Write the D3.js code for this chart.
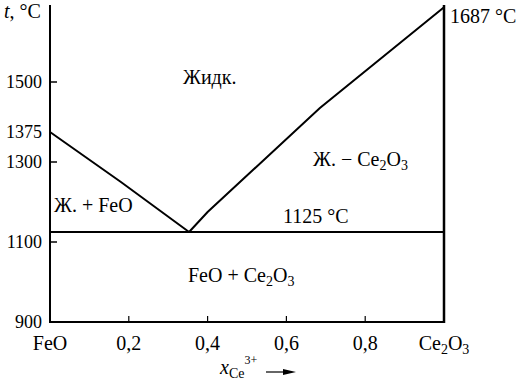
<!DOCTYPE html>
<html><head><meta charset="utf-8">
<script src="https://cdn.jsdelivr.net/npm/d3@7"></script>
<style>
body{margin:0;background:#fff;}
</style></head>
<body><svg id="c" width="519" height="383"></svg>
<script>
// Data
const leftLiquidus = [[0,1375],[0.18,1250],[0.353,1125]];
const rightLiquidus = [[0.353,1125],[0.40,1175],[0.685,1435],[1.0,1687]];
const eutecticT = 1125;
const xTicks = [0.2,0.4,0.6,0.8];
const xTickLabels = ["0,2","0,4","0,6","0,8"];
const yTicks = [900,1100,1300,1500];
const yExtraLabels = [1375];

const svg = d3.select("#c");
const x = d3.scaleLinear().domain([0,1]).range([50,444]);
const y = d3.scaleLinear().domain([900,1687]).range([322,7.2]);
const g = svg.append("g").attr("font-family","Liberation Serif");
const fs = 18, fl = 20;

// axes frame
g.append("line").attr("x1",50).attr("x2",50).attr("y1",5).attr("y2",y(900)+1).attr("stroke","#000").attr("stroke-width",2);
g.append("line").attr("x1",x(1)).attr("x2",x(1)).attr("y1",5).attr("y2",y(900)+1).attr("stroke","#000").attr("stroke-width",2.5);
g.append("line").attr("x1",49).attr("x2",x(1)+1).attr("y1",y(900)).attr("y2",y(900)).attr("stroke","#000").attr("stroke-width",2);

// y ticks (inward)
g.selectAll(".yt").data(yTicks.filter(d=>d>900)).join("line")
 .attr("x1",50).attr("x2",57).attr("y1",d=>y(d)).attr("y2",d=>y(d)).attr("stroke","#000").attr("stroke-width",1.5);
g.selectAll(".yl").data(yTicks.concat(yExtraLabels)).join("text")
 .attr("x",42).attr("y",d=>y(d)).attr("dy","0.35em").attr("text-anchor","end").attr("font-size",fs).text(d=>d);

// x ticks (inward)
g.selectAll(".xt").data(xTicks).join("line")
 .attr("x1",d=>x(d)).attr("x2",d=>x(d)).attr("y1",y(900)).attr("y2",y(900)-6).attr("stroke","#000").attr("stroke-width",1.2);
g.selectAll(".xl").data(xTicks).join("text")
 .attr("x",d=>x(d)).attr("y",350).attr("text-anchor","middle").attr("font-size",fl).text((d,i)=>xTickLabels[i]);
g.append("text").attr("x",x(0)).attr("y",350).attr("text-anchor","middle").attr("font-size",fl).text("FeO");
const ce = g.append("text").attr("x",x(1)).attr("y",350).attr("text-anchor","middle").attr("font-size",fl);
ce.append("tspan").text("Ce");
ce.append("tspan").attr("font-size",14).attr("dy",4).text("2");
ce.append("tspan").attr("dy",-4).text("O");
ce.append("tspan").attr("font-size",14).attr("dy",4).text("3");

// axis title
const at = g.append("text").attr("x",220).attr("y",374).attr("font-size",fl);
at.append("tspan").attr("font-style","italic").text("x");
at.append("tspan").attr("font-size",14).attr("dy",4).text("Ce");
at.append("tspan").attr("font-size",12).attr("dy",-14).text("3+");
g.append("line").attr("x1",266).attr("x2",290).attr("y1",372).attr("y2",372).attr("stroke","#000").attr("stroke-width",1.2);
g.append("path").attr("d","M283,369 L296,372 L283,375 Z").attr("fill","#000");

// y title
const yt = g.append("text").attr("x",4).attr("y",18).attr("font-size",fl);
yt.append("tspan").attr("font-style","italic").text("t");
yt.append("tspan").text(", °C");

// curves
const line = d3.line().x(d=>x(d[0])).y(d=>y(d[1]));
g.append("path").attr("d",line(leftLiquidus)).attr("fill","none").attr("stroke","#000").attr("stroke-width",2);
g.append("path").attr("d",line(rightLiquidus)).attr("fill","none").attr("stroke","#000").attr("stroke-width",2);
g.append("line").attr("x1",x(0)).attr("x2",x(1)).attr("y1",y(eutecticT)).attr("y2",y(eutecticT)).attr("stroke","#000").attr("stroke-width",2);

// labels
g.append("text").attr("x",x(1)+6).attr("y",23).attr("font-size",fl).text("1687 °C");
g.append("text").attr("x",183).attr("y",84).attr("font-size",fl).text("Жидк.");
const l2 = g.append("text").attr("x",313).attr("y",166).attr("font-size",fl);
l2.append("tspan").text("Ж. − Ce");
l2.append("tspan").attr("font-size",14).attr("dy",4).text("2");
l2.append("tspan").attr("dy",-4).text("O");
l2.append("tspan").attr("font-size",14).attr("dy",4).text("3");
g.append("text").attr("x",54).attr("y",212).attr("font-size",fl).text("Ж. + FeO");
g.append("text").attr("x",283).attr("y",223).attr("font-size",fl).text("1125 °C");
const l3 = g.append("text").attr("x",188).attr("y",282).attr("font-size",fl);
l3.append("tspan").text("FeO + Ce");
l3.append("tspan").attr("font-size",14).attr("dy",4).text("2");
l3.append("tspan").attr("dy",-4).text("O");
l3.append("tspan").attr("font-size",14).attr("dy",4).text("3");
</script></body></html>
